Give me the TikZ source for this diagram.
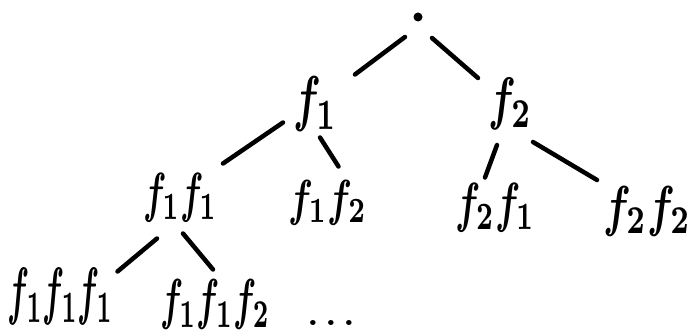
\documentclass[tikz,border=0pt]{standalone}
\usepackage{graphicx}
\usetikzlibrary{calc}
\newcommand{\hw}[3]{\resizebox*{#1pt}{#2pt}{\boldmath$#3$}}
\tikzset{
  lbl/.style={inner sep=0pt, outer sep=0pt, anchor=center},
  edge/.style={line width=4.5pt, line cap=round, line join=round},
}
\begin{document}
\begin{tikzpicture}[x=1pt,y=-1pt]
\useasboundingbox (0,0) rectangle (694,336);
% nodes
\node[circle, fill=black, inner sep=0pt, minimum size=9pt] (root) at (418,17) {};
\node[lbl] (f1) at (315,104.5) {\hw{44}{55}{f_1}};
\node[lbl] (f2) at (510,104) {\hw{44}{52}{f_2}};
\node[lbl] (f1f1) at (180,197.5) {\hw{74}{49}{f_1f_1}};
\node[lbl] (f1f2) at (327.5,202.5) {\hw{79}{45}{f_1f_2}};
\node[lbl] (f2f1) at (495,207.5) {\hw{80}{49}{f_2f_1}};
\node[lbl] (f2f2) at (647,211) {\hw{88}{50}{f_2f_2}};
\node[lbl] (f1f1f1) at (60.5,296.5) {\hw{105}{57}{f_1f_1f_1}};
\node[lbl] (f1f1f2) at (215,304.5) {\hw{110}{50}{f_1f_1f_2}};
\node[lbl] (dots) at (331,323) {\hw{47}{5}{\ldots}};
% edges
\draw[edge] ($(root)+(-13,20)$) -- ($(f1)+(40,-30)$);
\draw[edge] ($(root)+(14,21)$) -- ($(f2)+(-32,-26)$);
\draw[edge] ($(f1)+(-32,18)$) -- ($(f1f1)+(43,-34)$);
\draw[edge] ($(f1)+(5,33)$) -- ($(f1f2)+(11,-36)$);
\draw[edge] ($(f2)+(-13,41)$) -- ($(f2f1)+(-10,-30)$);
\draw[edge] ($(f2)+(23,38)$) -- ($(f2f2)+(-50,-31)$);
\draw[edge] ($(f1f1)+(-23,41)$) -- ($(f1f1f1)+(57,-25)$);
\draw[edge] ($(f1f1)+(3,36)$) -- ($(f1f1f2)+(-2,-35)$);
\end{tikzpicture}
\end{document}
